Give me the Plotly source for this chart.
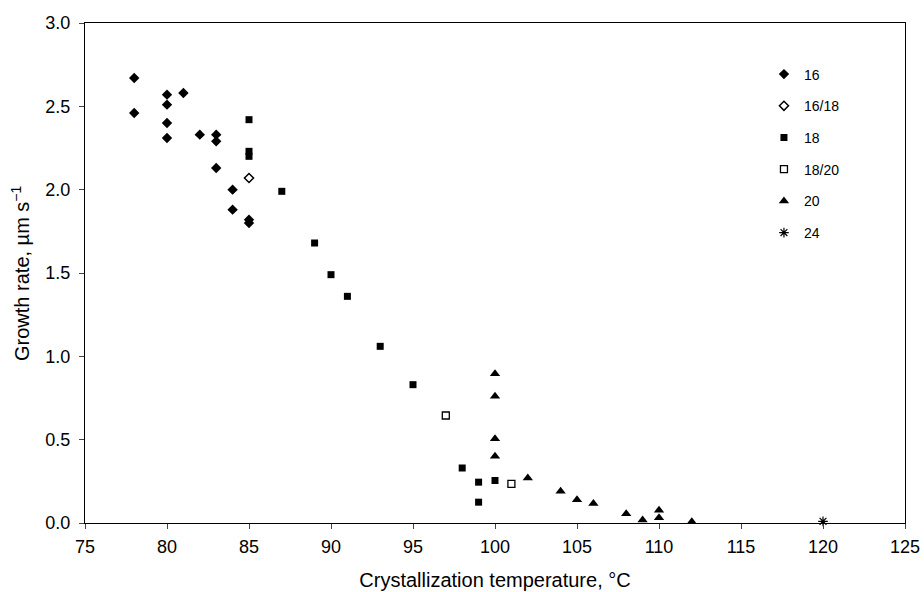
import plotly.graph_objects as go

# Data
s16_x = [78, 78, 80, 80, 80, 80, 81, 82, 83, 83, 83, 84, 84, 85, 85]
s16_y = [2.67, 2.46, 2.57, 2.51, 2.40, 2.31, 2.58, 2.33, 2.33, 2.29, 2.13, 2.00, 1.88, 1.82, 1.80]

s1618_x = [85]
s1618_y = [2.07]

s18_x = [85, 85, 85, 87, 89, 90, 91, 93, 95, 98, 99, 99, 100]
s18_y = [2.42, 2.23, 2.20, 1.99, 1.68, 1.49, 1.36, 1.06, 0.83, 0.33, 0.245, 0.125, 0.255]

s1820_x = [97, 101]
s1820_y = [0.645, 0.235]

s20_x = [100, 100, 100, 100, 102, 104, 105, 106, 108, 109, 110, 110, 112]
s20_y = [0.895, 0.76, 0.505, 0.40, 0.27, 0.19, 0.14, 0.117, 0.056, 0.018, 0.077, 0.032, 0.008]

s24_x = [120]
s24_y = [0.01]

x_ticks = [75, 80, 85, 90, 95, 100, 105, 110, 115, 120, 125]
y_ticks = [0.0, 0.5, 1.0, 1.5, 2.0, 2.5, 3.0]
y_tick_labels = ["0.0", "0.5", "1.0", "1.5", "2.0", "2.5", "3.0"]

series = [
    ("16", s16_x, s16_y, dict(symbol="diamond", size=8, color="black")),
    ("16/18", s1618_x, s1618_y, dict(symbol="diamond-open", size=7, color="black", line=dict(width=1.5))),
    ("18", s18_x, s18_y, dict(symbol="square", size=7, color="black")),
    ("18/20", s1820_x, s1820_y, dict(symbol="square-open", size=7, color="black", line=dict(width=1.3))),
    ("20", s20_x, s20_y, dict(symbol="triangle-up", size=9, color="black")),
    ("24", s24_x, s24_y, dict(symbol="asterisk-open", size=8, color="black", line=dict(width=1.2, color="black"))),
]

fig = go.Figure()
for i, (name, xs, ys, mk) in enumerate(series):
    fig.add_trace(go.Scatter(x=xs, y=ys, mode="markers", name=name, marker=mk,
                             legendgroup="g%d" % i, cliponaxis=False))

font_family = "Liberation Sans, Arial, sans-serif"
fig.update_layout(
    width=924, height=592,
    margin=dict(l=85, r=19, t=23, b=69),
    paper_bgcolor="white", plot_bgcolor="white",
    font=dict(family=font_family, color="black", size=18),
    showlegend=True,
    legend=dict(x=0.828, y=0.929, xanchor="left", yanchor="top",
                font=dict(size=14, family=font_family), tracegroupgap=10.5,
                bgcolor="rgba(0,0,0,0)", itemwidth=30),
    xaxis=dict(range=[75, 125], tickvals=x_ticks, ticks="outside", ticklen=5,
               showline=True, mirror=True, linecolor="black", linewidth=1, showgrid=False, zeroline=False,
               tickfont=dict(size=18), ticklabelstandoff=2, automargin=False,
               title=dict(text="Crystallization temperature, °C", font=dict(size=20), standoff=17)),
    yaxis=dict(range=[0, 3.0], tickvals=y_ticks, ticktext=y_tick_labels, ticks="outside", ticklen=5,
               showline=True, mirror=True, linecolor="black", linewidth=1, showgrid=False, zeroline=False,
               tickfont=dict(size=18), ticklabelstandoff=5, automargin=False),
    annotations=[dict(text="Growth rate, µm s<sup>−1</sup>", xref="paper", yref="paper",
                      x=-0.0793, y=0.5, xanchor="center", yanchor="middle", textangle=-90,
                      showarrow=False, font=dict(size=20, family=font_family))],
)

fig.write_html("out.html")
